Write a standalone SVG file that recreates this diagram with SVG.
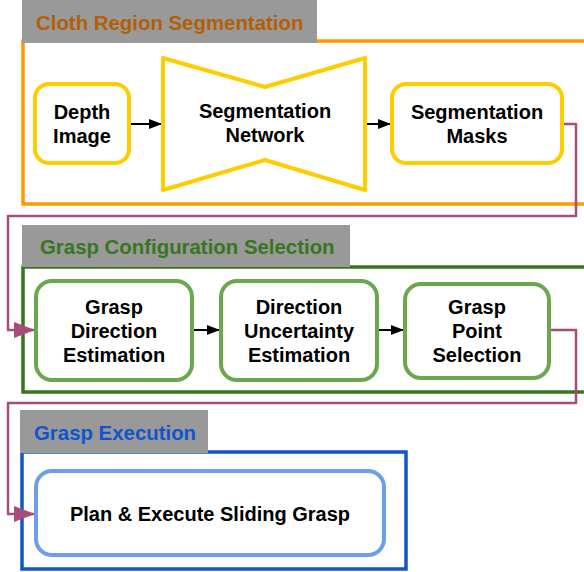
<svg xmlns="http://www.w3.org/2000/svg" width="584" height="572" viewBox="0 0 584 572">
  <defs>
    <style>
      .frame { fill: none; stroke-width: 3.5; }
      .tab { fill: #999999; }
      .title { font-family: "Liberation Sans", Arial, sans-serif; font-weight: bold; font-size: 20.4px; }
      .node { fill: #ffffff; stroke-width: 4; }
      .label { font-family: "Liberation Sans", Arial, sans-serif; font-weight: bold; font-size: 20px; fill: #000000; text-anchor: middle; }
      .flow { fill: none; stroke: #000000; stroke-width: 2; }
      .link { fill: none; stroke: #a64d79; stroke-width: 2.5; stroke-linejoin: round; }
    </style>
    <marker id="arrow" markerWidth="13" markerHeight="10" refX="13" refY="5" orient="auto" markerUnits="userSpaceOnUse">
      <path d="M0,0 L13,5 L0,10 Z" fill="#000000"/>
    </marker>
    <marker id="arrowLink" markerWidth="21" markerHeight="16" refX="21" refY="8" orient="auto" markerUnits="userSpaceOnUse">
      <path d="M0,0 L21,8 L0,16 Z" fill="#a64d79"/>
    </marker>
  </defs>

  <rect width="584" height="572" fill="#ffffff"/>

  <!-- Stage 1: cloth region segmentation -->
  <g id="stage-segmentation">
    <rect class="frame" x="23" y="41" width="600" height="163" stroke="#ff9900"/>
    <rect class="tab" x="22" y="0" width="295" height="43"/>
    <text class="title" x="36" y="30" fill="#b45f06">Cloth Region Segmentation</text>
  </g>

  <!-- Stage 2: grasp configuration selection -->
  <g id="stage-configuration">
    <rect class="frame" x="23" y="267" width="600" height="125" stroke="#38761d"/>
    <rect class="tab" x="22" y="225" width="328" height="42"/>
    <text class="title" x="40" y="254" fill="#38761d">Grasp Configuration Selection</text>
  </g>

  <!-- Stage 3: grasp execution -->
  <g id="stage-execution">
    <rect class="frame" x="22" y="452" width="384" height="117" stroke="#1155cc"/>
    <rect class="tab" x="20" y="410" width="188" height="43"/>
    <text class="title" x="34" y="440" fill="#1155cc">Grasp Execution</text>
  </g>

  <!-- Connectors -->
  <g id="connectors">
    <line class="flow" x1="129" y1="124" x2="162" y2="124" marker-end="url(#arrow)"/>
    <line class="flow" x1="366" y1="124" x2="391" y2="124" marker-end="url(#arrow)"/>
    <line class="flow" x1="193" y1="330" x2="220" y2="330" marker-end="url(#arrow)"/>
    <line class="flow" x1="378" y1="330" x2="404" y2="330" marker-end="url(#arrow)"/>
    <path class="link" d="M563,124 H576 V216 H8 V330 H35" marker-end="url(#arrowLink)"/>
    <path class="link" d="M550,330 H576 V403 H8 V514 H35" marker-end="url(#arrowLink)"/>
  </g>

  <!-- Nodes -->
  <g id="depth-image">
    <rect class="node" x="35" y="84" width="94" height="79" rx="14" stroke="#ffcc00"/>
    <text class="label" x="82" y="119">Depth</text>
    <text class="label" x="82" y="143">Image</text>
  </g>

  <g id="segmentation-network">
    <polygon class="node" points="163,58 265,87 365,58 365,190 265,160 163,190" stroke="#ffcc00" stroke-linejoin="round"/>
    <text class="label" x="265" y="118">Segmentation</text>
    <text class="label" x="265" y="142">Network</text>
  </g>

  <g id="segmentation-masks">
    <rect class="node" x="392" y="84" width="170" height="79" rx="14" stroke="#ffcc00"/>
    <text class="label" x="477" y="119">Segmentation</text>
    <text class="label" x="477" y="143">Masks</text>
  </g>

  <g id="grasp-direction">
    <rect class="node" x="36" y="281" width="156" height="99" rx="16" stroke="#6aa84f"/>
    <text class="label" x="114" y="314">Grasp</text>
    <text class="label" x="114" y="338">Direction</text>
    <text class="label" x="114" y="362">Estimation</text>
  </g>

  <g id="direction-uncertainty">
    <rect class="node" x="221" y="281" width="156" height="99" rx="16" stroke="#6aa84f"/>
    <text class="label" x="299" y="314">Direction</text>
    <text class="label" x="299" y="338">Uncertainty</text>
    <text class="label" x="299" y="362">Estimation</text>
  </g>

  <g id="grasp-point">
    <rect class="node" x="405" y="284" width="144" height="94" rx="16" stroke="#6aa84f"/>
    <text class="label" x="477" y="314">Grasp</text>
    <text class="label" x="477" y="338">Point</text>
    <text class="label" x="477" y="362">Selection</text>
  </g>

  <g id="sliding-grasp">
    <rect class="node" x="36" y="471" width="348" height="84" rx="16" stroke="#6d9eeb"/>
    <text class="label" x="210" y="521">Plan &amp; Execute Sliding Grasp</text>
  </g>
</svg>
